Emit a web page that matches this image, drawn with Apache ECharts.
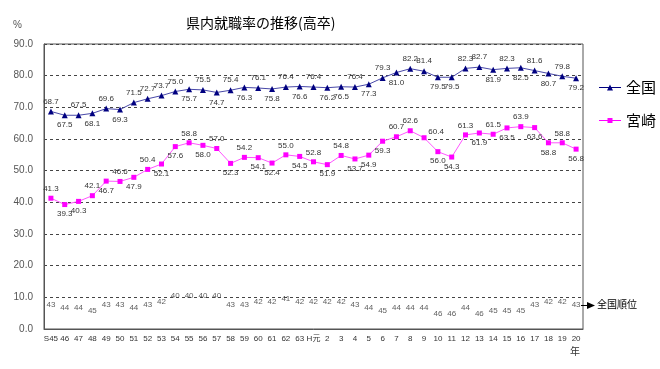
<!DOCTYPE html>
<html><head><meta charset="utf-8">
<script src="https://cdn.jsdelivr.net/npm/echarts@6/dist/echarts.min.js"></script>
<style>html,body{margin:0;padding:0;background:#fff}#c{width:660px;height:369px}</style>
</head><body><div id="c"></div>
<script>
const categories = ['S45','46','47','48','49','50','51','52','53','54','55','56','57','58','59','60','61','62','63',
  'H元','2','3','4','5','6','7','8','9','10','11','12','13','14','15','16','17','18','19','20'];
const national = [68.7,67.5,67.5,68.1,69.6,69.3,71.5,72.7,73.7,75.0,75.7,75.5,74.7,75.4,76.3,76.1,75.8,76.4,76.6,
  76.4,76.2,76.5,76.4,77.3,79.3,81.0,82.2,81.4,79.5,79.5,82.3,82.7,81.9,82.3,82.5,81.6,80.7,79.8,79.2];
const miyazaki = [41.3,39.3,40.3,42.1,46.7,46.6,47.9,50.4,52.1,57.6,58.8,58.0,57.0,52.3,54.2,54.1,52.4,55.0,54.5,
  52.8,51.9,54.8,53.7,54.9,59.3,60.7,62.6,60.4,56.0,54.3,61.3,61.9,61.5,63.5,63.9,63.6,58.8,58.8,56.8];
const rank = [43,44,44,45,43,43,44,43,42,40,40,40,40,43,43,42,42,41,42,
  42,42,42,43,44,45,44,44,44,46,46,44,46,45,45,45,43,42,42,43];
const yTickLabels = ['0.0','10.0','20.0','30.0','40.0','50.0','60.0','70.0','80.0','90.0'];

// label placement (style only)
const nationalLabelPos = 'tbtbtbttttbtbtbtbtbtbbtbtbttbbttbtbtbtb';
const miyazakiLabelPos = 'tbbtbtbtbbtbtbtbbtbtbtbbbttrbbtbtbtbbtb';

const FONT = "'Liberation Sans','Noto Sans CJK JP',sans-serif";
function posOf(c){ return c==='t'?'top':(c==='b'?'bottom':'right'); }
function labelled(values, pos){
  return values.map((v,i)=>{
    const p = pos[i];
    const lab = {position: posOf(p)};
    if (p==='r') { lab.position='top'; lab.offset=[12,4]; }
    return {value:v, label:lab};
  });
}

const chart = echarts.init(document.getElementById('c'));
chart.setOption({
  animation:false,
  backgroundColor:'#fff',
  textStyle:{fontFamily:FONT},
  grid:{left:44,right:77,top:44,bottom:40,show:true,borderColor:'#555',borderWidth:1,backgroundColor:'transparent'},
  legend:{
    orient:'vertical', left:594, top:75, itemGap:18, itemWidth:22, itemHeight:16,
    data:[
      {name:'全国', itemStyle:{color:'#000080'}},
      {name:'宮崎', itemStyle:{color:'#ff00ff'}}
    ],
    textStyle:{fontSize:15,color:'#000',fontFamily:"'Noto Sans CJK JP',sans-serif"}
  },
  xAxis:{
    type:'category', data:categories, boundaryGap:true,
    axisLine:{lineStyle:{color:'#555'}},
    axisTick:{inside:true,length:2,lineStyle:{color:'#555'}},
    axisLabel:{interval:0,fontSize:8,color:'#333',margin:6,fontFamily:FONT}
  },
  yAxis:[{
    type:'value', min:0, max:90, interval:10,
    axisLine:{show:true,lineStyle:{color:'#555'}},
    axisTick:{show:false},
    axisLabel:{fontSize:10,color:'#555',margin:11,formatter:(v)=>yTickLabels[Math.round(v/10)],fontFamily:FONT},
    splitLine:{show:true,lineStyle:{color:'#444',type:[3,3],width:1}}
  },{
    type:'value', inverse:true, min:-44, max:51, show:false, splitLine:{show:false}
  }],
  series:[{
    name:'全国', type:'line', data:labelled(national,nationalLabelPos),
    symbol:'triangle', symbolSize:6,
    lineStyle:{color:'#4848a8',width:1},
    itemStyle:{color:'#000080'},
    label:{show:true,fontSize:8,color:'#333',distance:3,formatter:(p)=>p.value.toFixed(1)}
  },{
    name:'宮崎', type:'line', data:labelled(miyazaki,miyazakiLabelPos),
    symbol:'rect', symbolSize:5,
    lineStyle:{color:'#ff55ff',width:1},
    itemStyle:{color:'#ff00ff'},
    label:{show:true,fontSize:8,color:'#333',distance:3,formatter:(p)=>p.value.toFixed(1)}
  },{
    name:'全国順位', type:'scatter', yAxisIndex:1, data:rank,
    symbol:'circle', symbolSize:1, itemStyle:{color:'rgba(0,0,0,0)'},
    label:{show:true,position:'inside',fontSize:8,color:'#333'}
  }],
  graphic:[
    {type:'text', left:186, top:16, style:{text:'県内就職率の推移(高卒)', font:"14px 'Noto Sans CJK JP',sans-serif", fill:'#000'}},
    {type:'text', left:13, top:20, style:{text:'%', font:"10px "+FONT, fill:'#555'}},
    {type:'text', left:570, top:346, style:{text:'年', font:"10px 'Noto Sans CJK JP',sans-serif", fill:'#333'}},
    {type:'line', shape:{x1:581,y1:305.5,x2:590,y2:305.5}, style:{stroke:'#000',lineWidth:1}},
    {type:'polygon', shape:{points:[[587,302],[595,305.5],[587,309]]}, style:{fill:'#000'}},
    {type:'text', left:597, top:299, style:{text:'全国順位', font:"10px 'Noto Sans CJK JP',sans-serif", fill:'#000'}}
  ]
});
// shrink legend symbols: draw small marker inside legend via legend icon paths
chart.setOption({
  legend:{
    data:[
      {name:'全国', icon:'path://M0,7.5 L22,7.5 L22,8.5 L0,8.5 Z M8,11 L11,5 L14,11 Z', itemStyle:{color:'#000080'}},
      {name:'宮崎', icon:'path://M0,7.5 L22,7.5 L22,8.5 L0,8.5 Z M8.5,5.5 L13.5,5.5 L13.5,10.5 L8.5,10.5 Z', itemStyle:{color:'#ff00ff'}}
    ]
  }
});
</script></body></html>
